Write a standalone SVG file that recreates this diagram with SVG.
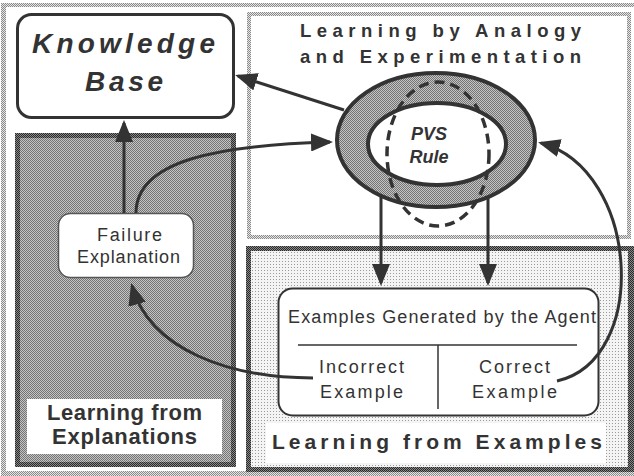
<svg xmlns="http://www.w3.org/2000/svg" width="634" height="476" viewBox="0 0 634 476">
<defs>
<pattern id="pLight" width="2" height="2" patternUnits="userSpaceOnUse"><rect width="2" height="2" fill="#e6e6e6"/><rect width="1" height="1" fill="#8a8a8a"/><rect x="1" y="1" width="1" height="1" fill="#8a8a8a"/></pattern>
<pattern id="pDark" width="2" height="2" patternUnits="userSpaceOnUse"><rect width="2" height="2" fill="#888"/><rect width="1" height="1" fill="#2a2a2a"/><rect x="1" y="1" width="1" height="1" fill="#2a2a2a"/></pattern>
<pattern id="pMid" width="2" height="2" patternUnits="userSpaceOnUse"><rect width="2" height="2" fill="#c4c4c4"/><rect width="1" height="1" fill="#747474"/><rect x="1" y="1" width="1" height="1" fill="#747474"/></pattern>
<pattern id="pDots" width="3" height="3" patternUnits="userSpaceOnUse"><rect width="3" height="3" fill="#f4f4f4"/><rect width="1" height="1" fill="#9a9a9a"/></pattern>
<marker id="ah" markerUnits="userSpaceOnUse" markerWidth="22" markerHeight="18" refX="19" refY="9" orient="auto"><path d="M0,0 L22,9 L0,18 z" fill="#333"/></marker>
</defs>
<style>
.bt{font-family:"Liberation Sans",Arial,sans-serif;font-weight:bold;fill:#333}
.rt{font-family:"Liberation Sans",Arial,sans-serif;font-size:18px;fill:#333}
.cn{fill:none;stroke:#333;stroke-width:3;marker-end:url(#ah)}
</style>
<rect width="634" height="476" fill="#fff"/>
<g id="frame">
<rect x="1" y="3" width="633" height="4" fill="url(#pLight)"/>
<rect x="1" y="3" width="5" height="473" fill="url(#pLight)"/>
<rect x="1" y="471" width="633" height="5" fill="url(#pLight)"/>
</g>
<g id="panel-analogy">
<rect x="247" y="12" width="384" height="227" fill="url(#pLight)"/>
<rect x="251" y="16" width="376" height="219" fill="#fff"/>
<text class="bt" x="300" y="37" font-size="18.5" textLength="281" lengthAdjust="spacing">Learning by Analogy</text>
<text class="bt" x="300" y="63" font-size="18.5" textLength="281" lengthAdjust="spacing">and Experimentation</text>
</g>
<g id="panel-explanations">
<rect x="15" y="133" width="221" height="334" fill="url(#pDark)"/>
<rect x="20" y="138" width="211" height="324" fill="url(#pMid)"/>
<rect x="27" y="399" width="195" height="55" fill="#fff"/>
<text class="bt" x="47" y="420" font-size="22" textLength="155" lengthAdjust="spacing">Learning from</text>
<text class="bt" x="52" y="444" font-size="22" textLength="145" lengthAdjust="spacing">Explanations</text>
</g>
<g id="panel-examples">
<rect x="246" y="246" width="388" height="226" fill="url(#pDark)"/>
<rect x="251" y="251" width="377" height="216" fill="url(#pDots)"/>
<rect x="266" y="423" width="340" height="40" fill="#fff"/>
<text class="bt" x="272" y="449" font-size="21" textLength="330" lengthAdjust="spacing">Learning from Examples</text>
</g>
<g id="knowledge-base">
<rect x="17.5" y="14.5" width="216" height="103" rx="14" fill="#fff" stroke="#333" stroke-width="3"/>
<text class="bt" x="32" y="53" font-size="28" font-style="italic" textLength="183" lengthAdjust="spacing">Knowledge</text>
<text class="bt" x="85" y="91" font-size="28" font-style="italic" textLength="78" lengthAdjust="spacing">Base</text>
</g>
<g id="failure-explanation">
<rect x="58.5" y="213.5" width="135" height="64" rx="12" fill="#fff" stroke="#555" stroke-width="1.5"/>
<text class="rt" x="97" y="241" textLength="65" lengthAdjust="spacing">Failure</text>
<text class="rt" x="77" y="263" textLength="103" lengthAdjust="spacing">Explanation</text>
</g>
<g id="examples">
<rect x="278.5" y="288.5" width="320" height="127" rx="14" fill="#fff" stroke="#333" stroke-width="2"/>
<text class="rt" x="288" y="323" textLength="308" lengthAdjust="spacing">Examples Generated by the Agent</text>
<line x1="298" y1="345" x2="577" y2="345" stroke="#333" stroke-width="1.5"/>
<line x1="438" y1="345" x2="438" y2="409" stroke="#333" stroke-width="1.5"/>
<text class="rt" x="319" y="373" textLength="85" lengthAdjust="spacing">Incorrect</text>
<text class="rt" x="320" y="398" textLength="83" lengthAdjust="spacing">Example</text>
<text class="rt" x="479" y="373" textLength="71" lengthAdjust="spacing">Correct</text>
<text class="rt" x="472" y="398" textLength="85" lengthAdjust="spacing">Example</text>
</g>
<g id="connectors">
<path class="cn" d="M124,213 L124,123"/>
<path class="cn" d="M344,110 L238,76"/>
<path class="cn" d="M136,213 C136,160 220,145 330,142"/>
<path class="cn" d="M381,197 L381,283"/>
<path class="cn" d="M488,198 L488,283"/>
<path class="cn" d="M557,381 C650,360 640,170 541,143"/>
<path class="cn" d="M313,378 C230,378 150,350 132,286"/>
</g>
<g id="pvs-rule">
<ellipse cx="436" cy="140" rx="99" ry="67" fill="url(#pMid)" stroke="#333" stroke-width="4"/>
<ellipse cx="437" cy="144" rx="69" ry="41" fill="#fff" stroke="#333" stroke-width="4"/>
<ellipse cx="438" cy="154" rx="51" ry="72" fill="none" stroke="#333" stroke-width="3.5" stroke-dasharray="10 6"/>
<text class="bt" x="429" y="140" font-size="18" font-style="italic" text-anchor="middle">PVS</text>
<text class="bt" x="429" y="163" font-size="18" font-style="italic" text-anchor="middle">Rule</text>
</g>
</svg>
